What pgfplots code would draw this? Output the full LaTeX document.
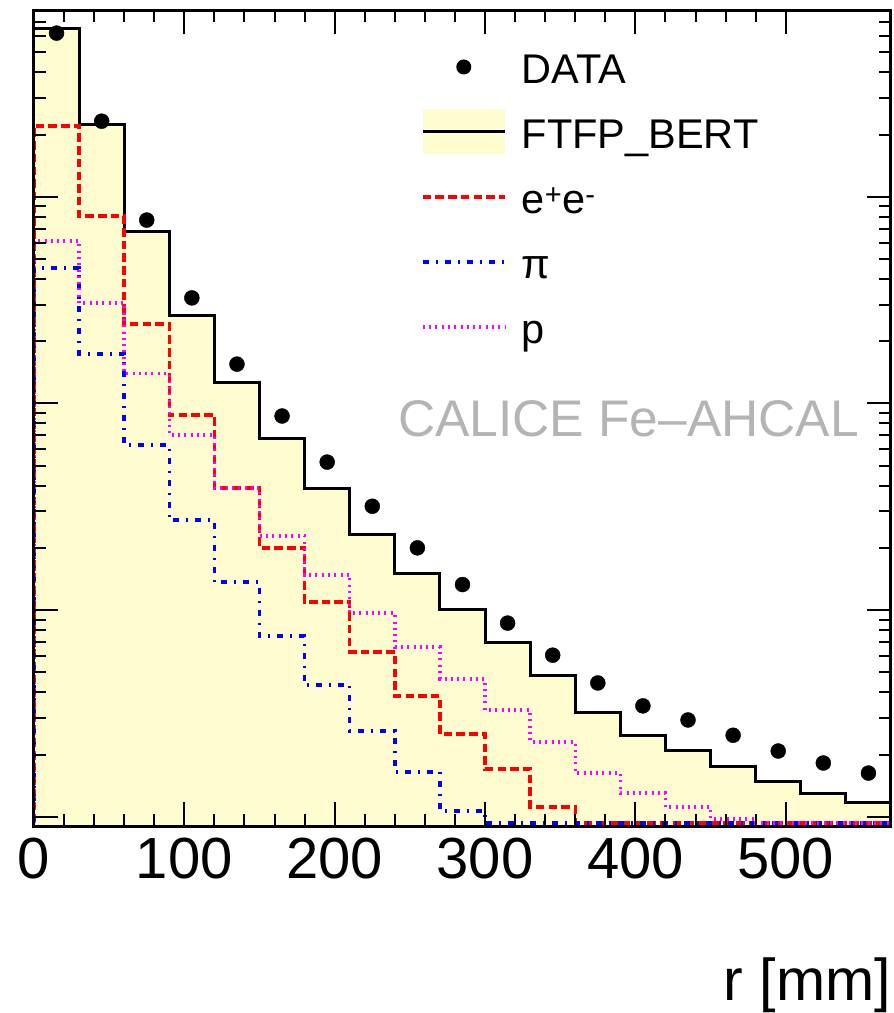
\documentclass[border=0pt]{standalone}
\usepackage{pgfplots}
\pgfplotsset{compat=1.18}
\usepackage{fontspec}
\setmainfont{Liberation Sans}
\definecolor{ftfp}{RGB}{255,253,208}
\definecolor{calgray}{RGB}{180,180,180}
\definecolor{mag}{RGB}{255,0,255}
\begin{document}
\begin{tikzpicture}
\useasboundingbox (-34pt,-187pt) rectangle (860pt,826pt);
\begin{axis}[
  at={(0pt,0pt)}, anchor=south west,
  scale only axis, width=857pt, height=816pt,
  xmin=0, xmax=570, ymode=log, ymin=9.02e-5, ymax=0.8006,
  axis on top,
  axis line style={line width=3pt},
  tick align=inside, xtick pos=both, ytick pos=both,
  xtick={0,100,200,300,400,500}, minor x tick num=4,
  ytick={1e-4,1e-3,1e-2,1e-1}, yticklabels={},
  minor ytick={2e-4,3e-4,4e-4,5e-4,6e-4,7e-4,8e-4,9e-4,
               2e-3,3e-3,4e-3,5e-3,6e-3,7e-3,8e-3,9e-3,
               2e-2,3e-2,4e-2,5e-2,6e-2,7e-2,8e-2,9e-2,
               0.2,0.3,0.4,0.5,0.6,0.7},
  major tick length=24pt, minor tick length=12pt,
  every tick/.style={black, line width=2pt},
  /pgf/number format/assume math mode=true,
  xticklabel style={anchor=north, inner sep=0pt, yshift=-12pt, font=\fontsize{58}{58}\selectfont},
  xlabel={r [mm]},
  xlabel style={at={(axis description cs:1,0)}, anchor=base east, inner sep=0pt, yshift=-174pt, font=\fontsize{59}{59}\selectfont},
  legend cell align=left,
  legend style={at={(axis description cs:0.4516,0.970)}, anchor=north west, draw=none, fill=none,
    inner sep=0pt, outer sep=0pt, row sep=0pt, font=\fontsize{41.5}{41.5}\selectfont,
    nodes={inner sep=0pt, text height=49pt, text depth=16pt}},
]
% FTFP_BERT (filled)
\addplot[const plot, fill=ftfp, draw=black, line width=3pt, forget plot] coordinates {
(0,5e-5) (0,0.655) (30,0.2234) (60,0.0682) (90,0.02676) (120,0.01268) (150,0.00679)
(180,0.00389) (210,0.002333) (240,0.00151) (270,0.001012) (300,0.000700) (330,0.000480)
(360,0.000321) (390,0.000248) (420,0.000210) (450,0.000176) (480,0.0001488) (510,0.0001302)
(540,0.0001178) (570,0.0001178) (570,5e-5)};
% e+e-
\addplot[const plot, red, line width=3.5pt, dash pattern=on 8.5pt off 4.2pt, forget plot] coordinates {
(0,9.35e-5) (0,0.2198) (30,0.0806) (60,0.02421) (90,0.00879) (120,0.00389) (150,0.00200)
(180,0.001094) (210,0.000627) (240,0.000384) (270,0.000251) (300,0.0001701) (330,0.0001114)
(360,9.35e-5) (390,9.35e-5) (420,9.35e-5) (450,9.35e-5) (480,9.35e-5) (510,9.35e-5)
(540,9.35e-5) (570,9.35e-5)};
% pi
\addplot[const plot, blue, line width=3.5pt, dash pattern=on 6pt off 7pt on 2pt off 7pt, forget plot] coordinates {
(0,9.35e-5) (0,0.0452) (30,0.01734) (60,0.00629) (90,0.002726) (120,0.001366) (150,0.000748)
(180,0.000434) (210,0.000260) (240,0.0001645) (270,0.0001066) (300,9.35e-5) (330,9.35e-5)
(360,9.35e-5) (390,9.35e-5) (420,9.35e-5) (450,9.35e-5) (480,9.35e-5) (510,9.35e-5)
(540,9.35e-5) (570,9.35e-5)};
% p
\addplot[const plot, mag, line width=3.5pt, dash pattern=on 2pt off 4.3pt, forget plot] coordinates {
(0,9.35e-5) (0,0.0610) (30,0.03059) (60,0.01395) (90,0.00703) (120,0.00389) (150,0.002282)
(180,0.001477) (210,0.000967) (240,0.000663) (270,0.000464) (300,0.000328) (330,0.000230)
(360,0.0001627) (390,0.0001302) (420,0.0001114) (450,0.0000975) (480,9.35e-5) (510,9.35e-5)
(540,9.35e-5) (570,9.35e-5)};
% DATA
\addplot[only marks, mark=*, mark size=7.5pt, black, forget plot] coordinates {
(15,0.619) (45,0.232) (75,0.0771) (105,0.0324) (135,0.01549) (165,0.00869) (195,0.00520)
(225,0.00318) (255,0.00200) (285,0.001329) (315,0.000865) (345,0.000605) (375,0.000444)
(405,0.000344) (435,0.000294) (465,0.000248) (495,0.000208) (525,0.000182) (555,0.0001627)};
% legend
\addlegendimage{legend image code/.code={\path[draw=none,fill=none] (0pt,0pt) rectangle (99pt,0pt); \fill[black,draw=none] (41pt,0pt) circle (7.5pt);}}
\addlegendentry{DATA}
\addlegendimage{legend image code/.code={\path[draw=none,fill=none] (0pt,0pt) rectangle (99pt,0pt); \fill[ftfp,draw=none] (0pt,-22.5pt) rectangle (82pt,22.5pt); \draw[black,line width=3pt] (0pt,0pt) -- (82pt,0pt);}}
\addlegendentry{FTFP\_BERT}
\addlegendimage{legend image code/.code={\path[draw=none,fill=none] (0pt,0pt) rectangle (99pt,0pt); \draw[red,line width=3.5pt,dash pattern=on 8.5pt off 4.2pt] (0pt,0pt) -- (82pt,0pt);}}
\addlegendentry{e\textsuperscript{+}e\textsuperscript{-}}
\addlegendimage{legend image code/.code={\path[draw=none,fill=none] (0pt,0pt) rectangle (99pt,0pt); \draw[blue,line width=3.5pt,dash pattern=on 6pt off 7pt on 2pt off 7pt] (0pt,0pt) -- (82pt,0pt);}}
\addlegendentry{π}
\addlegendimage{legend image code/.code={\path[draw=none,fill=none] (0pt,0pt) rectangle (99pt,0pt); \draw[mag,line width=3.5pt,dash pattern=on 2pt off 4.3pt] (0pt,0pt) -- (82pt,0pt);}}
\addlegendentry{p}
\end{axis}
\node[anchor=base west, inner sep=0pt, text=calgray, font=\fontsize{51.5}{51.5}\selectfont] at (364pt,389pt) {CALICE Fe--AHCAL};
\end{tikzpicture}
\end{document}
